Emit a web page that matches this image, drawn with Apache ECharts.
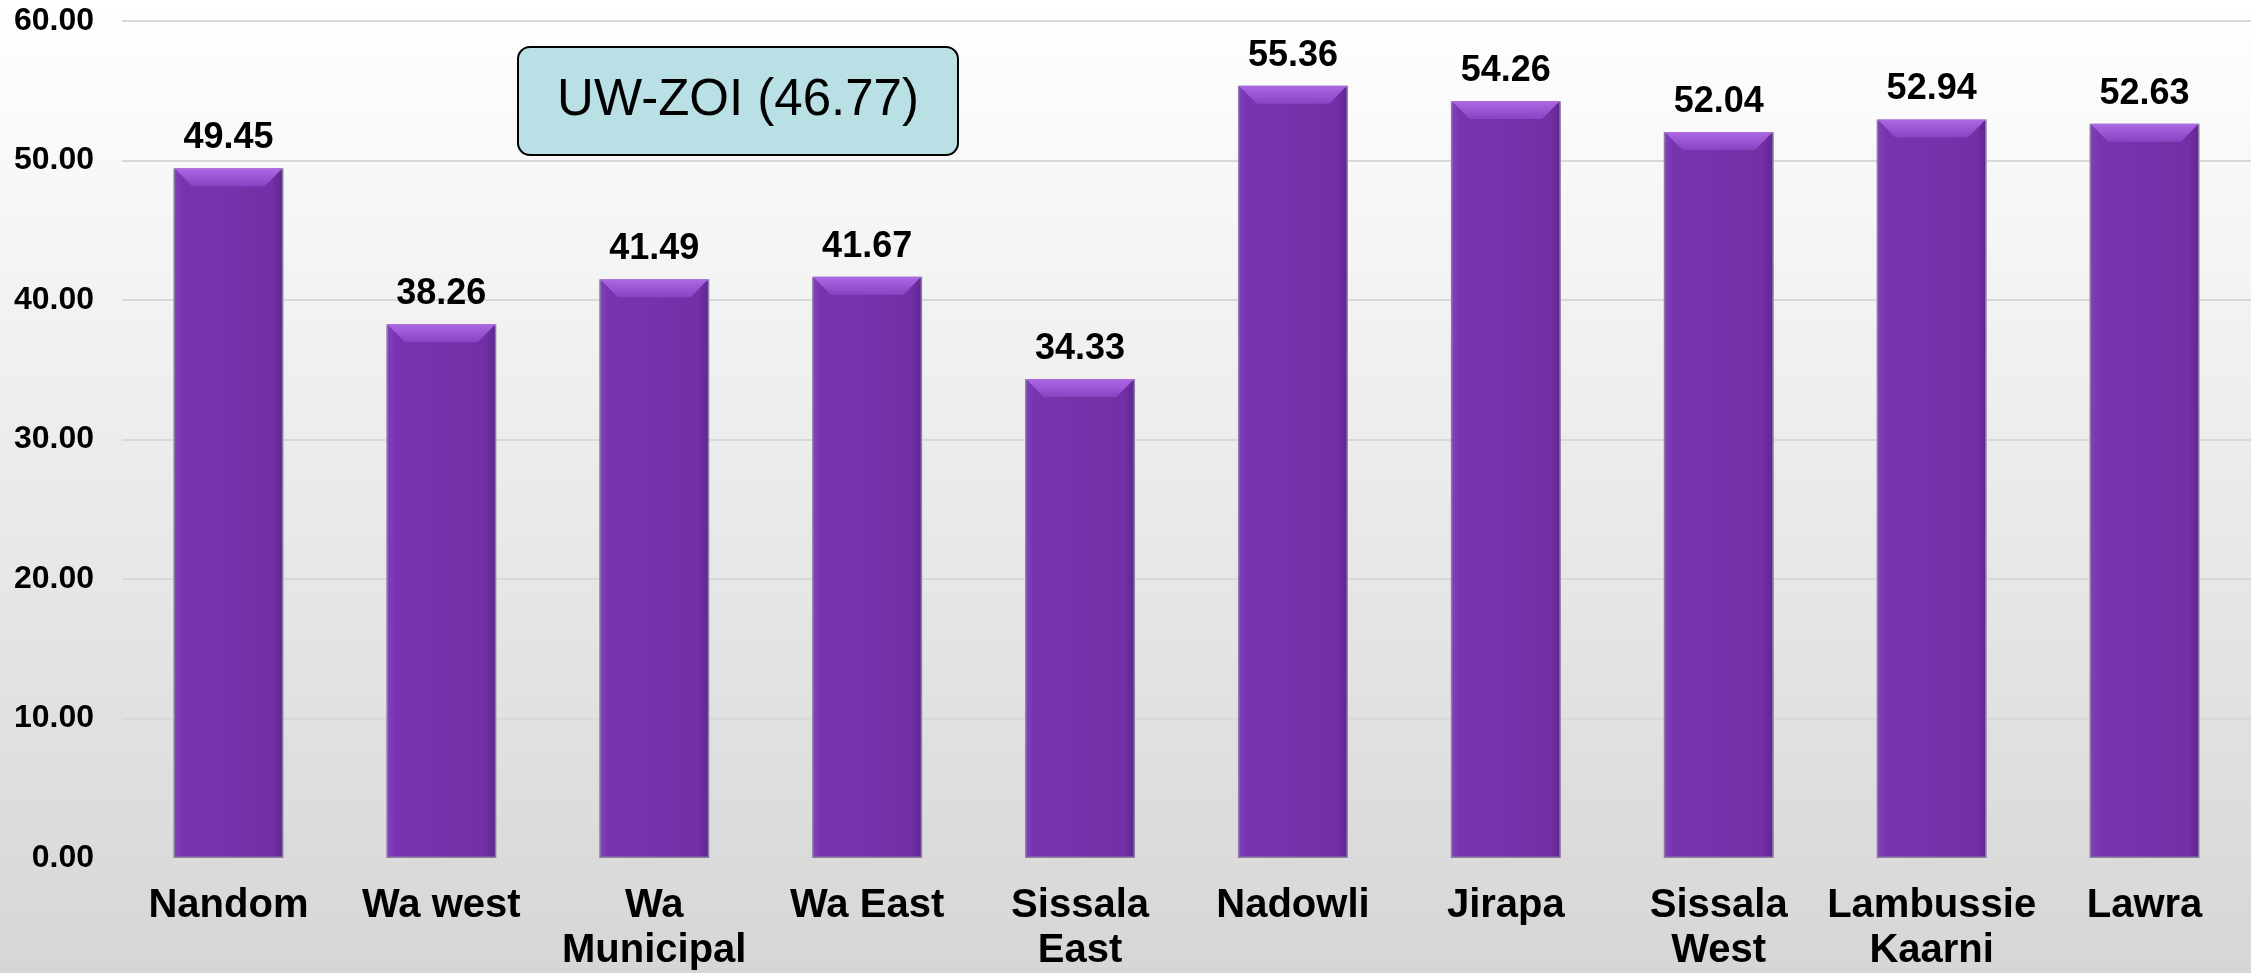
<!DOCTYPE html>
<html>
<head>
<meta charset="utf-8">
<title>UW-ZOI by district</title>
<script src="https://cdn.jsdelivr.net/npm/echarts@6/dist/echarts.min.js"></script>
<style>
  html, body { margin: 0; padding: 0; }
  #chart { width: 2251px; height: 973px; }
</style>
</head>
<body>
<div id="chart"></div>
<script>
// district names (line breaks as in the source)
var districts = ['Nandom', 'Wa west', 'Wa\nMunicipal', 'Wa East', 'Sissala\nEast',
  'Nadowli', 'Jirapa', 'Sissala\nWest', 'Lambussie\nKaarni', 'Lawra']
var scores = [49.45, 38.26, 41.49, 41.67, 34.33, 55.36, 54.26, 52.04, 52.94, 52.63]
var zoiLabel = 'UW-ZOI (46.77)'
var yTicks = { min: 0, max: 60, interval: 10 }

var font = 'Liberation Sans, Arial, sans-serif'
var barW = 110

var chart = echarts.init(document.getElementById('chart'))
chart.setOption({
  backgroundColor: new echarts.graphic.LinearGradient(0, 0, 0, 1, [
    { offset: 0, color: '#ffffff' },
    { offset: 1, color: '#d6d6d6' }
  ]),
  animation: false,
  grid: { left: 122, right: 0, top: 21, bottom: 112, containLabel: false },
  xAxis: {
    type: 'category',
    data: districts,
    axisLine: { show: false },
    axisTick: { show: false },
    axisLabel: {
      interval: 0,
      margin: 25,
      color: '#000',
      fontFamily: font,
      fontWeight: 'bold',
      fontSize: 40,
      lineHeight: 45
    }
  },
  yAxis: {
    type: 'value',
    min: yTicks.min,
    max: yTicks.max,
    interval: yTicks.interval,
    axisLine: { show: false },
    axisTick: { show: false },
    splitLine: { lineStyle: { color: '#d9d9d9', width: 2 } },
    axisLabel: {
      margin: 28,
      color: '#000',
      fontFamily: font,
      fontWeight: 'bold',
      fontSize: 32,
      formatter: function (v) { return v.toFixed(2) }
    }
  },
  series: [{
    type: 'bar',
    data: scores,
    barWidth: barW,
    itemStyle: {
      color: new echarts.graphic.LinearGradient(0, 0, 1, 0, [
        { offset: 0, color: '#8442c2' },
        { offset: 0.08, color: '#7834ae' },
        { offset: 0.9, color: '#7230a6' },
        { offset: 1, color: '#5e2590' }
      ]),
      borderColor: '#8c7ea0',
      borderWidth: 1.5
    },
    label: {
      show: true,
      position: 'top',
      distance: 12,
      color: '#000',
      fontFamily: font,
      fontWeight: 'bold',
      fontSize: 36,
      formatter: function (p) { return p.value.toFixed(2) }
    }
  }, {
    // bevel on top of each bar
    type: 'pictorialBar',
    data: scores,
    barWidth: barW,
    barGap: '-100%',
    z: 3,
    silent: true,
    symbol: 'path://M0,0 L110,0 L92,18 L18,18 Z',
    symbolSize: [barW - 2, 18],
    symbolPosition: 'end',
    itemStyle: {
      color: new echarts.graphic.LinearGradient(0, 0, 0, 1, [
        { offset: 0, color: '#ad69e4' },
        { offset: 1, color: '#8743c2' }
      ])
    }
  }],
  graphic: [{
    type: 'group',
    left: 517,
    top: 46,
    children: [{
      type: 'rect',
      shape: { x: 0, y: 0, width: 440, height: 108, r: 12 },
      style: { fill: '#b9e0e4', stroke: '#000', lineWidth: 2 }
    }, {
      type: 'text',
      x: 220,
      y: 54,
      style: {
        text: zoiLabel,
        fill: '#000',
        font: '51px ' + font,
        align: 'center',
        verticalAlign: 'middle'
      }
    }]
  }]
})
</script>
</body>
</html>
